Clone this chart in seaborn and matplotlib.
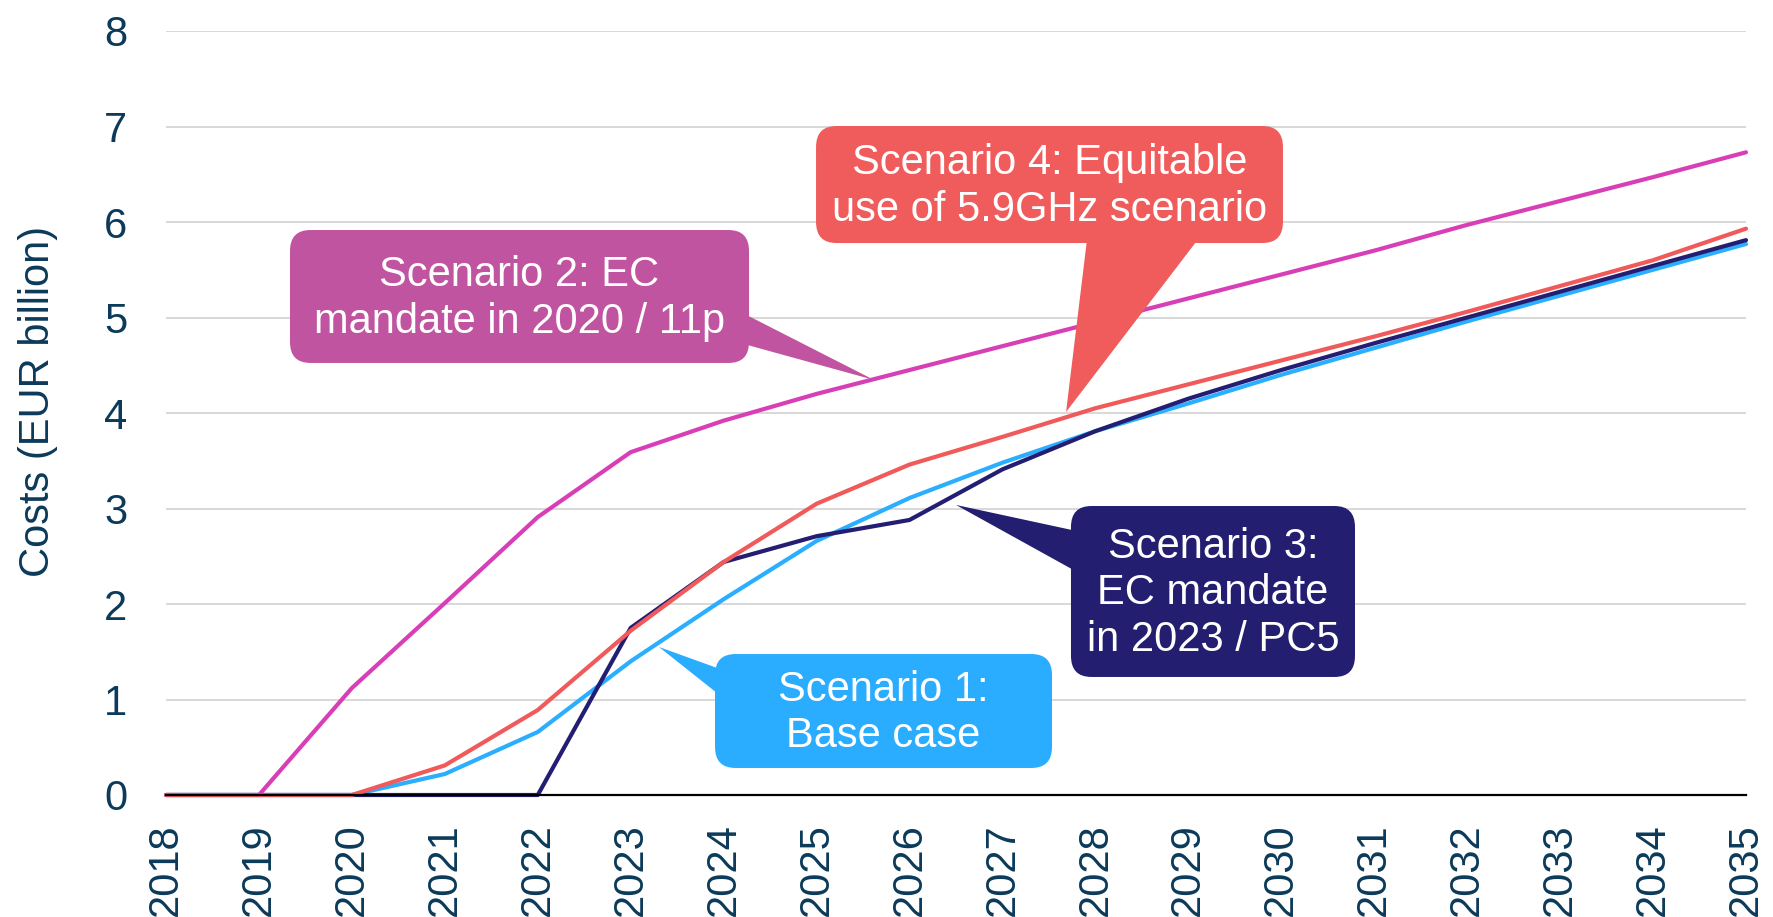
import matplotlib
matplotlib.use("Agg")
import matplotlib.pyplot as plt
import seaborn as sns
import pandas as pd
from matplotlib.patches import FancyBboxPatch, Polygon

years = list(range(2018, 2036))
scenario_1 = [0, 0, 0, 0.22, 0.66, 1.40, 2.05, 2.66, 3.11, 3.48, 3.81, 4.10, 4.40, 4.68, 4.96, 5.23, 5.50, 5.77]
scenario_2 = [0, 0, 1.12, 2.01, 2.91, 3.59, 3.92, 4.20, 4.45, 4.70, 4.95, 5.20, 5.45, 5.70, 5.97, 6.22, 6.47, 6.73]
scenario_3 = [0, 0, 0, 0, 0, 1.75, 2.44, 2.71, 2.88, 3.41, 3.81, 4.15, 4.45, 4.73, 5.00, 5.27, 5.54, 5.81]
scenario_4 = [0, 0, 0, 0.31, 0.89, 1.72, 2.44, 3.05, 3.46, 3.75, 4.05, 4.30, 4.55, 4.80, 5.06, 5.33, 5.60, 5.93]

names = ["Scenario 1", "Scenario 3", "Scenario 2", "Scenario 4"]
series = [scenario_1, scenario_3, scenario_2, scenario_4]
colors = {"Scenario 1": "#2AAEFF", "Scenario 2": "#D83FB6",
          "Scenario 3": "#241E72", "Scenario 4": "#F05A5A"}

df = pd.DataFrame({
    "year": years * len(names),
    "cost": [v for s in series for v in s],
    "scenario": [n for n in names for _ in years],
})

sns.set_style("white")
plt.rcParams["font.family"] = ["Liberation Sans", "DejaVu Sans"]
text_col = "#0B3A5A"

fig = plt.figure(figsize=(17.74, 9.17), dpi=100)
ax = fig.add_axes([166 / 1774, 1 - 795 / 917, 1580 / 1774, 764 / 917])

sns.lineplot(data=df, x="year", y="cost", hue="scenario", hue_order=names,
             palette=colors, linewidth=3.0, legend=False, ax=ax, clip_on=False)

ax.set_xlim(2018, 2035)
ax.set_ylim(0, 8)
ax.set_xticks(years)
ax.set_xticklabels([str(y) for y in years], rotation=90)
ax.set_yticks(range(0, 9))
ax.yaxis.grid(True, color="#D2D2D2", linewidth=1.2)
ax.set_axisbelow(True)
for side in ["left", "right", "top"]:
    ax.spines[side].set_visible(False)
ax.spines["bottom"].set_color("black")
ax.spines["bottom"].set_linewidth(1.6)
ax.tick_params(axis="x", direction="inout", length=17, width=0.9, color="#222222",
               pad=12, labelsize=30, labelcolor=text_col)
ax.tick_params(axis="y", length=0, pad=28, labelsize=30, labelcolor=text_col)
ax.set_xlabel("")
ax.set_ylabel("Costs (EUR billion)", fontsize=30, color=text_col)
ax.yaxis.set_label_coords(-0.0684, 0.515)

# callouts: (text, colour, box x0, x1, y0, y1, tail polygon)
callouts = [
    ("Scenario 2: EC\nmandate in 2020 / 11p", "#C054A0",
     (2019.334, 2024.273, 4.524, 5.916),
     [(2024.1, 5.099), (2025.618, 4.346), (2024.1, 4.754)]),
    ("Scenario 4: Equitable\nuse of 5.9GHz scenario", "#F05C5C",
     (2024.994, 2030.018, 5.780, 7.005),
     [(2027.920, 5.9), (2027.684, 4.010), (2029.168, 5.9)]),
    ("Scenario 3:\nEC mandate\nin 2023 / PC5", "#231E6F",
     (2027.737, 2030.793, 1.236, 3.026),
     [(2027.9, 2.743), (2026.500, 3.037), (2027.9, 2.283)]),
    ("Scenario 1:\nBase case", "#2AACFF",
     (2023.907, 2027.533, 0.283, 1.476),
     [(2024.05, 1.288), (2023.304, 1.550), (2024.05, 0.974)]),
]
for txt, col, (x0, x1, y0, y1), tail in callouts:
    box = FancyBboxPatch((x0, y0), x1 - x0, y1 - y0,
                         boxstyle="round,pad=0,rounding_size=0.22",
                         facecolor=col, edgecolor="none", zorder=5, clip_on=False)
    ax.add_patch(box)
    ax.add_patch(Polygon(tail, closed=True, facecolor=col, edgecolor="none",
                         zorder=5, clip_on=False))
    ax.text((x0 + x1) / 2, (y0 + y1) / 2 - 0.02, txt, ha="center", va="center",
            color="white", fontsize=30, linespacing=1.2, zorder=6)

fig.savefig("out.png", dpi=100)
